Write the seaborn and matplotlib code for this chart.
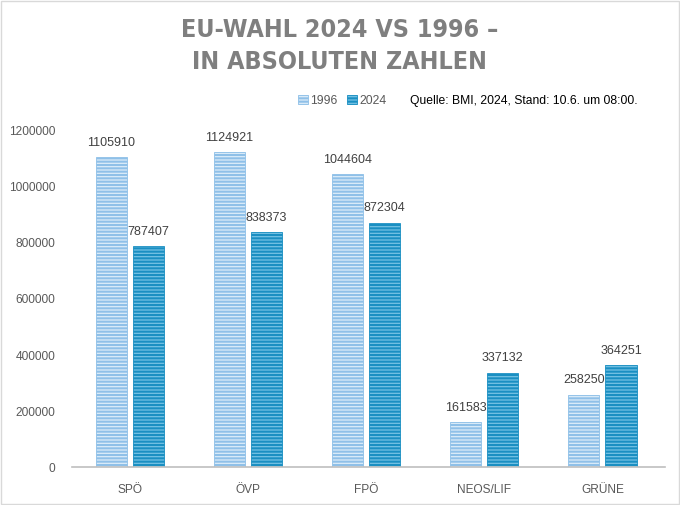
import matplotlib
matplotlib.use("Agg")
import matplotlib.pyplot as plt
import matplotlib.patches as mpatches
import numpy as np
import pandas as pd
import seaborn as sns

# ── Data ──
parties = ["SPÖ", "ÖVP", "FPÖ", "NEOS/LIF", "GRÜNE"]
votes_1996 = [1105910, 1124921, 1044604, 161583, 258250]
votes_2024 = [787407, 838373, 872304, 337132, 364251]
years = ["1996", "2024"]

# ── Styles ──
FACE = {"1996": "#dcecf9", "2024": "#74c2e4"}
EDGE = {"1996": "#8fc0e8", "2024": "#1a8fc2"}

df = pd.DataFrame({
    "party": parties * 2,
    "year": ["1996"] * len(parties) + ["2024"] * len(parties),
    "votes": votes_1996 + votes_2024,
})

sns.set_theme(style="white")
plt.rcParams["font.family"] = ["Liberation Sans", "DejaVu Sans"]
plt.rcParams["hatch.linewidth"] = 1.5

fig = plt.figure(figsize=(6.8, 5.05), dpi=100)
ax = fig.add_axes([0.106, 0.075, 0.872, 0.666])

sns.barplot(data=df, x="party", y="votes", hue="year", order=parties,
            hue_order=years, width=0.627, gap=0.16, ax=ax, legend=False,
            palette=FACE)

for cont, yr in zip(ax.containers, years):
    for bar in cont:
        bar.set_facecolor(FACE[yr])
        bar.set_edgecolor(EDGE[yr])
        bar.set_linewidth(0.6)
        bar.set_hatch("-----")
    ax.bar_label(cont, labels=[str(int(v)) for v in cont.datavalues],
                 padding=6, fontsize=9, color="#404040")

ax.set_ylim(0, 1200000)
ax.set_yticks(np.arange(0, 1200001, 200000))
ax.set_yticklabels([str(v) for v in range(0, 1200001, 200000)])
ax.set_xlim(-0.49, 4.53)
ax.set_xlabel("")
ax.set_ylabel("")
ax.tick_params(axis="both", labelsize=8.6, colors="#595959", length=0)
ax.tick_params(axis="x", pad=12)
ax.tick_params(axis="y", pad=12)
for side in ["top", "right", "left"]:
    ax.spines[side].set_visible(False)
ax.spines["bottom"].set_color("#bfbfbf")
ax.spines["bottom"].set_linewidth(1.2)

# Title
title_kw = dict(ha="center", va="center", fontsize=18, fontweight="bold",
                color="#7f7f7f", family="DejaVu Sans", fontstretch="condensed")
fig.text(0.5, 0.94, "EU-WAHL 2024 VS 1996 –", **title_kw)
fig.text(0.5, 0.877, "IN ABSOLUTEN ZAHLEN", **title_kw)

# Legend
handles = [mpatches.Patch(facecolor=FACE[y], edgecolor=EDGE[y], hatch="-----",
                          linewidth=0.6, label=y) for y in years]
fig.legend(handles=handles, loc="center", bbox_to_anchor=(0.503, 0.8),
           ncol=2, frameon=False, fontsize=8.8, handlelength=0.8,
           handleheight=0.8, handletextpad=0.2, columnspacing=0.8,
           labelcolor="#595959")
fig.text(0.603, 0.8, "Quelle: BMI, 2024, Stand: 10.6. um 08:00.", ha="left",
         va="center", fontsize=8.7, color="#000000")

# Outer border
fig.patches.append(mpatches.Rectangle((0.002, 0.002), 0.996, 0.996,
                                      transform=fig.transFigure, fill=False,
                                      edgecolor="#d9d9d9", linewidth=1))

fig.savefig("out.png", dpi=100)
plt.close(fig)
